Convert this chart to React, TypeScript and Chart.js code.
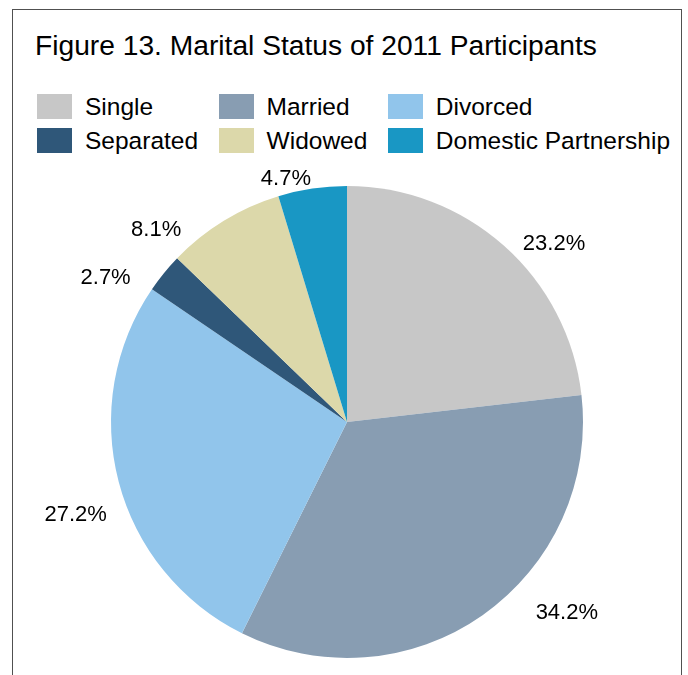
import React, { useEffect, useRef } from "react";
import { Chart, registerables } from "chart.js";

Chart.register(...registerables);

const title = "Figure 13. Marital Status of 2011 Participants";
const categories = ["Single", "Married", "Divorced", "Separated", "Widowed", "Domestic Partnership"];
const percents = [23.2, 34.2, 27.2, 2.7, 8.1, 4.7];
const colors = ["#C7C7C7", "#889DB2", "#91C5EB", "#2F5779", "#DCD8AA", "#1997C4"];
// legend reading order (3 columns x 2 rows)
const legendOrder = [0, 1, 2, 3, 4, 5];
// per-label nudges (px) from the default outside-end label position
const labelNudges: [number, number][] = [
  [30, 19],
  [67, -29],
  [-14, 24],
  [-35, 22],
  [-52, 33],
  [-22, 18],
];

const FONT = '"Liberation Sans", Arial, Helvetica, sans-serif';

const labelPlugin = {
  id: "outsideLabels",
  afterDatasetsDraw(chart: any) {
    const ctx = chart.ctx;
    const meta = chart.getDatasetMeta(0);
    const fs = 22;
    ctx.save();
    ctx.font = `${fs}px ${FONT}`;
    ctx.fillStyle = "#000";
    ctx.textAlign = "center";
    ctx.textBaseline = "alphabetic";
    meta.data.forEach((arc: any, i: number) => {
      const p = arc.getProps(["x", "y", "startAngle", "endAngle", "outerRadius"], true);
      const mid = (p.startAngle + p.endAngle) / 2;
      const R = p.outerRadius + 30;
      const nx = labelNudges[i] ? labelNudges[i][0] : 0;
      const ny = labelNudges[i] ? labelNudges[i][1] : 0;
      const cx = p.x + Math.cos(mid) * R + nx;
      const cy = p.y + Math.sin(mid) * R + ny;
      const txt = percents[i].toFixed(1) + "%";
      ctx.fillText(txt, cx, cy + 0.358 * fs);
    });
    ctx.restore();
  },
};

export default function App() {
  const ref = useRef<HTMLCanvasElement | null>(null);
  useEffect(() => {
    if (!ref.current) return;
    const chart = new Chart(ref.current, {
      type: "pie",
      data: {
        labels: categories,
        datasets: [
          {
            data: percents,
            backgroundColor: colors,
            borderWidth: 0,
          },
        ],
      },
      options: {
        animation: false,
        responsive: false,
        layout: { padding: { left: 111, right: 105, top: 186, bottom: 17 } },
        plugins: {
          legend: { display: false },
          title: { display: false },
          tooltip: { enabled: false },
        },
      },
      plugins: [labelPlugin],
    });
    return () => chart.destroy();
  }, []);

  return (
    <div
      style={{
        position: "absolute",
        left: 0,
        top: 0,
        width: 688,
        height: 675,
        overflow: "hidden",
        background: "#fff",
        fontFamily: FONT,
      }}
    >
      <div
        style={{
          position: "absolute",
          left: 12,
          top: 9,
          width: 668,
          height: 700,
          borderTop: "1px solid #505050",
          borderLeft: "1px solid #505050",
          borderRight: "1px solid #505050",
        }}
      />
      <div
        style={{
          position: "absolute",
          left: 35,
          top: 31,
          fontSize: 28.2,
          lineHeight: "28px",
          color: "#000",
          whiteSpace: "nowrap",
        }}
      >
        {title}
      </div>
      <div
        style={{
          position: "absolute",
          left: 37,
          top: 94,
          display: "grid",
          gridTemplateColumns: "auto auto auto",
          columnGap: 20.5,
          gridAutoRows: "34px",
        }}
      >
        {legendOrder.map((i) => (
          <div key={i} style={{ display: "flex", alignItems: "flex-start", height: 34 }}>
            <div style={{ width: 35, height: 25, background: colors[i], flex: "none" }} />
            <span
              style={{
                marginLeft: 13,
                fontSize: 24.5,
                lineHeight: "24px",
                color: "#000",
                whiteSpace: "nowrap",
                position: "relative",
                top: 1,
              }}
            >
              {categories[i]}
            </span>
          </div>
        ))}
      </div>
      <canvas
        ref={ref}
        width={688}
        height={675}
        style={{ position: "absolute", left: 0, top: 0, width: 688, height: 675 }}
      />
    </div>
  );
}
